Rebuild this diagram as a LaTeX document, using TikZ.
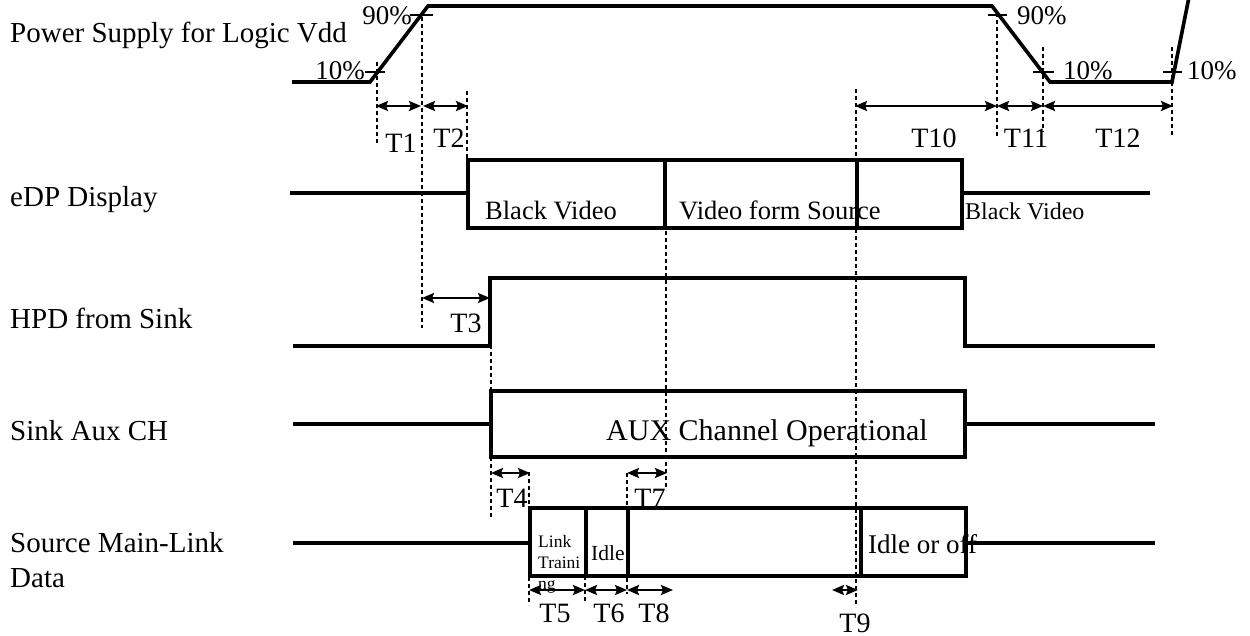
\documentclass[tikz,border=0pt]{standalone}
\usepackage{fontspec}
\setmainfont{Liberation Serif}
\usetikzlibrary{arrows.meta}
\begin{document}
\begin{tikzpicture}[x=1pt,y=-1pt,
  wave/.style={line width=3.6pt, line join=miter},
  tickmark/.style={line width=2pt},
  guide/.style={line width=1.3pt, dash pattern=on 4pt off 3pt},
  dim/.style={line width=2.4pt, {Stealth[length=12pt,width=10pt,inset=2pt]}-{Stealth[length=12pt,width=10pt,inset=2pt]}, shorten <=-1pt, shorten >=-1pt},
  lbl/.style={inner sep=0pt, anchor=base west, font=\fontsize{29}{35}\selectfont},
  pct/.style={inner sep=0pt, font=\fontsize{27}{32}\selectfont},
  tl/.style={inner sep=0pt, anchor=base, font=\fontsize{28}{32}\selectfont},
  boxtxt/.style={inner sep=0pt, anchor=base west, font=\fontsize{26.5}{30}\selectfont},
  small/.style={inner sep=0pt, anchor=base west, font=\fontsize{17.5}{21}\selectfont},
]
\useasboundingbox (0,0) rectangle (1250,636);

% ---- signal names
\node[lbl] (nVdd) at (10,43) {Power Supply for Logic Vdd};
\node[lbl] (nEdp) at (10,207) {eDP Display};
\node[lbl] (nHpd) at (10,328) {HPD from Sink};
\node[lbl] (nAux) at (10,440) {Sink Aux CH};
\node[lbl] (nSrc) at (10,552) {Source Main-Link};
\node[lbl] (nSrc2) at (10,587) {Data};

% ---- percent labels
\node[pct, anchor=base east] (p10a) at (365,80) {10\%};
\node[pct, anchor=base east] (p90a) at (412,25) {90\%};
\node[pct, anchor=base west] (p90b) at (1017,25) {90\%};
\node[pct, anchor=base west] (p10b) at (1063,80) {10\%};
\node[pct, anchor=base west] (p10c) at (1187,80) {10\%};

% ---- texts inside boxes
\node[boxtxt] (bv1) at (485,220) {Black Video};
\node[boxtxt] (vfs) at (679,220) {Video form Source};
\node[inner sep=0pt, anchor=base west, font=\fontsize{24}{28}\selectfont] (bv2) at (965,220) {Black Video};
\node[inner sep=0pt, anchor=base west, font=\fontsize{30}{34}\selectfont] (auxop) at (606,440) {AUX Channel Operational};
\node[small] (lt1) at (538,547) {Link};
\node[small] (lt2) at (538,568) {Traini};
\node[small] (lt3) at (538,589) {ng};
\node[inner sep=0pt, anchor=base west, font=\fontsize{21.5}{24}\selectfont] (idle) at (591,560) {Idle};
\node[inner sep=0pt, anchor=base west, font=\fontsize{27}{30}\selectfont] (idleoff) at (868,553) {Idle or off};

% ---- waveforms
\draw[wave] (292,82) -- (370,82) -- (428,6) -- (992,6) -- (1050,82) -- (1172,82) -- (1190,-8);
\draw[wave] (290,193) -- (468,193);
\draw[wave] (468,160) rectangle (962,228);
\draw[wave] (665,160) -- (665,228);
\draw[wave] (857,160) -- (857,228);
\draw[wave] (962,193) -- (1150,193);
\draw[wave] (293,346) -- (490,346) -- (490,278) -- (965,278) -- (965,346) -- (1155,346);
\draw[wave] (293,424) -- (491,424);
\draw[wave] (491,391) rectangle (965,457);
\draw[wave] (965,424) -- (1155,424);
\draw[wave] (293,543) -- (530,543);
\draw[wave] (530,508) rectangle (966,576);
\draw[wave] (586,508) -- (586,576);
\draw[wave] (628,508) -- (628,576);
\draw[wave] (861,508) -- (861,576);
\draw[wave] (966,543) -- (1155,543);

% ---- ticks
\draw[tickmark] (365,72) -- (385,72);
\draw[tickmark] (410,15) -- (433,15);
\draw[tickmark] (988,15) -- (1007,15);
\draw[tickmark] (1033,72) -- (1054,72);
\draw[tickmark] (1163,72) -- (1182,72);

% ---- guide lines
\coordinate (g1a) at (377,62);  \coordinate (g1b) at (377,145);
\coordinate (g2a) at (422,17);  \coordinate (g2b) at (422,328);
\coordinate (g3a) at (467,91);  \coordinate (g3b) at (467,230);
\coordinate (g4a) at (666,231); \coordinate (g4b) at (666,490);
\coordinate (g5a) at (856,89);  \coordinate (g5b) at (856,607);
\coordinate (g6a) at (997,13);  \coordinate (g6b) at (997,138);
\coordinate (g7a) at (1043,47); \coordinate (g7b) at (1043,132);
\coordinate (g8a) at (1172,47); \coordinate (g8b) at (1172,137);
\coordinate (g9a) at (491,345); \coordinate (g9b) at (491,517);
\coordinate (g10a) at (529,472); \coordinate (g10b) at (529,605);
\coordinate (g11a) at (585,576); \coordinate (g11b) at (585,603);
\coordinate (g12a) at (627,473); \coordinate (g12b) at (627,594);
\foreach \i in {1,...,12} \draw[guide] (g\i a) -- (g\i b);

% ---- dimension arrows
\draw[dim] (377,106) -- (420,106);
\draw[dim] (424,106) -- (467,106);
\draw[dim] (856,106) -- (996,106);
\draw[dim] (998,106) -- (1042,106);
\draw[dim] (1044,106) -- (1172,106);
\draw[dim] (423,298) -- (489,298);
\draw[dim] (492,473) -- (529,473);
\draw[dim] (628,473) -- (666,473);
\draw[dim] (530,590) -- (584,590);
\draw[dim] (586,590) -- (626,590);
\draw[dim] (628,590) -- (672,590);
\draw[dim] (833,590) -- (857,590);

% ---- timing labels
\node[tl] (t1) at (401,153) {T1};
\node[tl] (t2) at (449,148) {T2};
\node[tl] (t10) at (934,148) {T10};
\node[tl] (t11) at (1026,148) {T11};
\node[tl] (t12) at (1118,148) {T12};
\node[tl] (t3) at (466,332) {T3};
\node[tl] (t4) at (512,507) {T4};
\node[tl] (t7) at (650,507) {T7};
\node[tl] (t5) at (555,622) {T5};
\node[tl] (t6) at (609,622) {T6};
\node[tl] (t8) at (654,622) {T8};
\node[tl] (t9) at (855,632) {T9};
\end{tikzpicture}
\end{document}
